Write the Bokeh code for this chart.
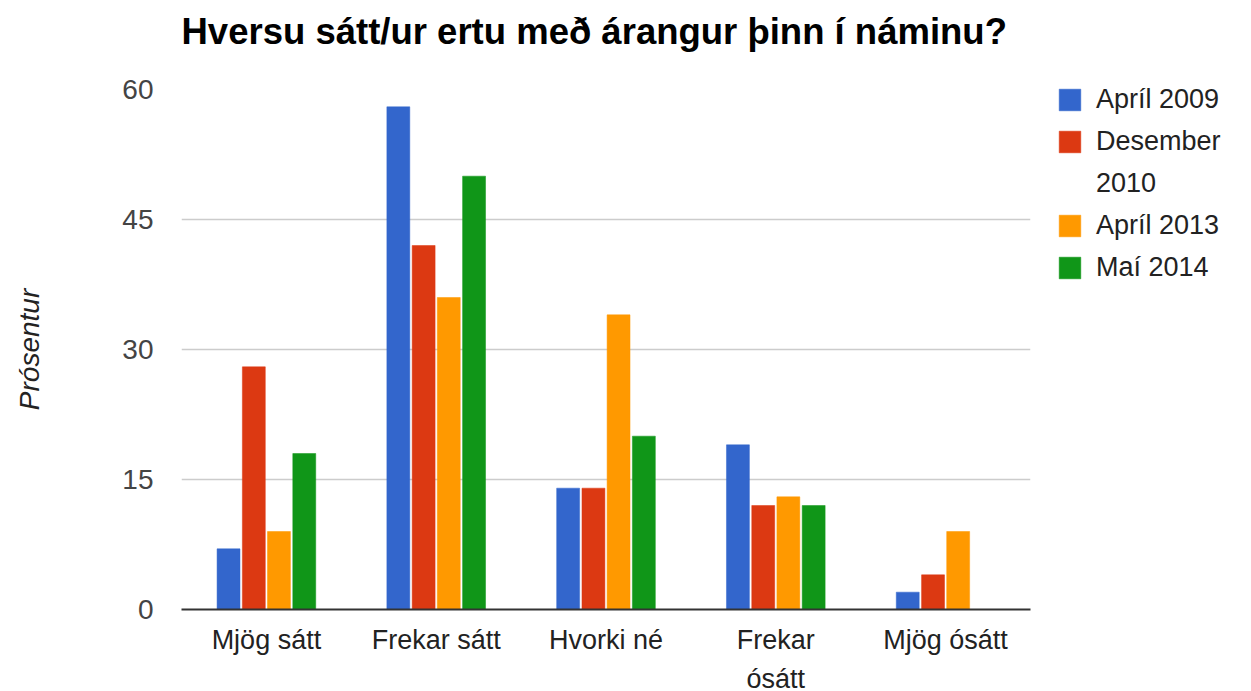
from bokeh.plotting import figure
from bokeh.models import (ColumnDataSource, FactorRange, Range1d, FixedTicker,
                          Legend, LegendItem, Title)
from bokeh.transform import dodge
from bokeh.embed import file_html
from bokeh.resources import INLINE

categories = ["Mjög sátt", "Frekar sátt", "Hvorki né", "Frekar\nósátt", "Mjög ósátt"]
apr_2009 = [7, 58, 14, 19, 2]
des_2010 = [28, 42, 14, 12, 4]
apr_2013 = [9, 36, 34, 13, 9]
mai_2014 = [18, 50, 20, 12, 0]
series_names = ["Apríl 2009", "Desember", "Apríl 2013", "Maí 2014"]
series_name_cont = "2010"   # second line of the "Desember 2010" legend entry
series_keys = ["apr_2009", "des_2010", "apr_2013", "mai_2014"]
colors = ["#3366cc", "#dc3912", "#ff9900", "#109618"]
y_ticks = [0, 15, 30, 45, 60]

title_text = "Hversu sátt/ur ertu með árangur þinn í náminu?"
y_label = "Prósentur"

FONT = "Liberation Sans"

source = ColumnDataSource(dict(cat=categories, apr_2009=apr_2009, des_2010=des_2010,
                               apr_2013=apr_2013, mai_2014=mai_2014))

p = figure(x_range=FactorRange(*categories), y_range=Range1d(0, 60),
           frame_width=849, frame_height=520,
           min_border_left=181, min_border_right=205, min_border_top=88,
           min_border_bottom=80, output_backend="svg", toolbar_location=None)

offsets = [-0.223, -0.074, 0.074, 0.223]
renderers = []
for key, off, col in zip(series_keys, offsets, colors):
    r = p.vbar(x=dodge("cat", off, range=p.x_range), top=key, width=0.135,
               source=source, fill_color=col, line_color=col, line_width=0.5)
    renderers.append(r)

# invisible renderer used only to carry the wrapped second legend line
blank = p.vbar(x=dodge("cat", 0, range=p.x_range), top="des_2010", width=0.001,
               source=source, fill_alpha=0, line_alpha=0)

# spacer between frame and title, then the title itself (outermost)
spacer = Title(text=" ", text_font_size="1px", standoff=26)
p.add_layout(spacer, "above")
main_title = Title(text=title_text, text_font=FONT, text_font_size="36.5px",
                   text_font_style="bold", text_color="#000000", align="left",
                   vertical_align="bottom", standoff=17)
p.add_layout(main_title, "above")

p.outline_line_color = None
p.background_fill_color = "white"
p.border_fill_color = "white"

p.xgrid.grid_line_color = None
p.ygrid.grid_line_color = "#cccccc"
p.ygrid.grid_line_width = 1.5

p.yaxis.ticker = FixedTicker(ticks=y_ticks)
p.yaxis.axis_line_color = None
p.yaxis.major_tick_line_color = None
p.yaxis.minor_tick_line_color = None
p.yaxis.major_tick_out = 0
p.yaxis.major_tick_in = 0
p.yaxis.major_label_standoff = 28
p.yaxis.major_label_text_font = FONT
p.yaxis.major_label_text_font_size = "28px"
p.yaxis.major_label_text_color = "#444444"
p.yaxis.axis_label = y_label
p.yaxis.axis_label_text_font = FONT
p.yaxis.axis_label_text_font_size = "28px"
p.yaxis.axis_label_text_font_style = "italic"
p.yaxis.axis_label_text_color = "#222222"
p.yaxis.axis_label_standoff = 74

p.xaxis.axis_line_color = "#333333"
p.xaxis.axis_line_width = 2
p.xaxis.major_tick_line_color = None
p.xaxis.major_tick_out = 0
p.xaxis.major_tick_in = 0
p.xaxis.major_label_standoff = 15
p.xaxis.major_label_text_font = FONT
p.xaxis.major_label_text_font_size = "27px"
p.xaxis.major_label_text_line_height = 1.3
p.xaxis.major_label_text_color = "#222222"

items = [LegendItem(label=series_names[0], renderers=[renderers[0]]),
         LegendItem(label=series_names[1], renderers=[renderers[1]]),
         LegendItem(label=series_name_cont, renderers=[blank]),
         LegendItem(label=series_names[2], renderers=[renderers[2]]),
         LegendItem(label=series_names[3], renderers=[renderers[3]])]
legend = Legend(items=items,
                location=(26, 326), glyph_width=27, glyph_height=27, label_standoff=13,
                spacing=11, padding=0, margin=0, border_line_color=None,
                background_fill_alpha=0, label_text_font=FONT,
                label_text_font_size="27px", label_text_color="#222222")
p.add_layout(legend, "right")

open("out.html", "w").write(file_html(p, INLINE))
